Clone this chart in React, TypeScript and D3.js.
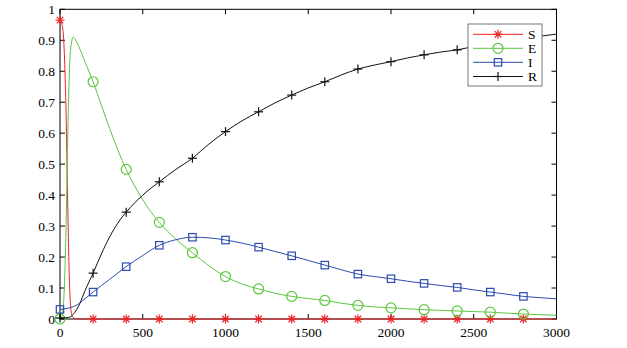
import React from "react";
import * as d3 from "d3";

const W = 627;
const H = 348;

const xTicks = [0, 500, 1000, 1500, 2000, 2500, 3000];
const yTicks = [0, 0.1, 0.2, 0.3, 0.4, 0.5, 0.6, 0.7, 0.8, 0.9, 1];
const yTickLabels = ["0", "0.1", "0.2", "0.3", "0.4", "0.5", "0.6", "0.7", "0.8", "0.9", "1"];

const sT = [0, 10, 20, 30, 36, 40, 45, 50, 55, 60, 65, 70, 80, 100, 120, 200, 400, 600, 800, 1000, 1200, 1400, 1600, 1800, 2000, 2200, 2400, 2600, 2800, 3000];
const sV = [0.965, 0.955, 0.92, 0.8, 0.68, 0.57, 0.42, 0.28, 0.16, 0.08, 0.035, 0.015, 0.004, 0.001, 0, 0, 0, 0, 0, 0, 0, 0, 0, 0, 0, 0, 0, 0, 0, 0];

const eT = [0, 10, 20, 30, 36, 40, 45, 50, 55, 60, 65, 70, 80, 90, 100, 120, 150, 200, 250, 300, 350, 400, 500, 600, 700, 800, 900, 1000, 1100, 1200, 1300, 1400, 1500, 1600, 1700, 1800, 1900, 2000, 2100, 2200, 2300, 2400, 2500, 2600, 2700, 2800, 2900, 3000];
const eV = [0, 0.008, 0.04, 0.16, 0.28, 0.39, 0.54, 0.67, 0.77, 0.84, 0.875, 0.895, 0.91, 0.905, 0.895, 0.872, 0.832, 0.766, 0.69, 0.615, 0.545, 0.483, 0.385, 0.312, 0.258, 0.214, 0.172, 0.137, 0.113, 0.097, 0.083, 0.073, 0.066, 0.06, 0.051, 0.044, 0.039, 0.036, 0.033, 0.03, 0.028, 0.026, 0.024, 0.022, 0.019, 0.016, 0.014, 0.012];

const iT = [0, 50, 100, 150, 200, 300, 400, 500, 600, 700, 800, 900, 1000, 1100, 1200, 1300, 1400, 1500, 1600, 1700, 1800, 1900, 2000, 2100, 2200, 2300, 2400, 2500, 2600, 2700, 2800, 2900, 3000];
const iV = [0.031, 0.035, 0.045, 0.065, 0.087, 0.128, 0.169, 0.205, 0.238, 0.256, 0.264, 0.262, 0.255, 0.245, 0.232, 0.218, 0.204, 0.189, 0.174, 0.159, 0.145, 0.137, 0.13, 0.122, 0.115, 0.108, 0.102, 0.094, 0.087, 0.08, 0.073, 0.069, 0.065];

const rT = [0, 50, 80, 100, 120, 150, 200, 250, 300, 363, 400, 500, 600, 700, 800, 900, 1000, 1100, 1200, 1300, 1400, 1500, 1600, 1700, 1800, 1900, 2000, 2100, 2200, 2300, 2400, 2500, 2600, 2700, 2800, 2900, 3000];
const rV = [0.003, 0.005, 0.015, 0.03, 0.05, 0.09, 0.148, 0.21, 0.265, 0.32, 0.345, 0.4, 0.443, 0.483, 0.519, 0.565, 0.605, 0.64, 0.669, 0.698, 0.723, 0.746, 0.766, 0.788, 0.807, 0.82, 0.831, 0.843, 0.853, 0.862, 0.869, 0.88, 0.89, 0.898, 0.905, 0.913, 0.92];

const seriesNames = ["S", "E", "I", "R"];
const seriesColors = ["#ee2222", "#5cc63e", "#2b4bb0", "#111111"];
const markerStep = 200;
const markerMax = 2800;

const x = d3.scaleLinear().domain([0, 3000]).range([60, 556.5]);
const y = d3.scaleLinear().domain([0, 1]).range([319, 9.3]);

function Marker({ kind, cx, cy, color }: { kind: number; cx: number; cy: number; color: string }) {
  if (kind === 0) {
    const r = 4.5;
    const d = r * 0.72;
    return (
      <g stroke={color} strokeWidth={1.2}>
        <line x1={cx - r} y1={cy} x2={cx + r} y2={cy} />
        <line x1={cx} y1={cy - r} x2={cx} y2={cy + r} />
        <line x1={cx - d} y1={cy - d} x2={cx + d} y2={cy + d} />
        <line x1={cx - d} y1={cy + d} x2={cx + d} y2={cy - d} />
      </g>
    );
  }
  if (kind === 1) {
    return <circle cx={cx} cy={cy} r={5} fill="none" stroke={color} strokeWidth={1.2} />;
  }
  if (kind === 2) {
    return <rect x={cx - 3.7} y={cy - 3.7} width={7.4} height={7.4} fill="none" stroke={color} strokeWidth={1.2} />;
  }
  const r = 4.5;
  return (
    <g stroke={color} strokeWidth={1.2}>
      <line x1={cx - r} y1={cy} x2={cx + r} y2={cy} />
      <line x1={cx} y1={cy - r} x2={cx} y2={cy + r} />
    </g>
  );
}

export default function App() {
  const series = [
    { t: sT, v: sV },
    { t: eT, v: eV },
    { t: iT, v: iV },
    { t: rT, v: rV },
  ];
  const line = d3
    .line<[number, number]>()
    .x((d) => x(d[0]))
    .y((d) => y(d[1]))
    .curve(d3.curveMonotoneX);

  const [x0, x1] = x.range();
  const [y0, y1] = y.range();
  const tl = 5;
  const textStyle = { fontFamily: '"Liberation Serif", "DejaVu Serif", serif', fontSize: "13.5px" };

  const legX = 468, legY = 24, legW = 74, legH = 62;
  const rowY = [34.3, 48.3, 62.3, 76.5];

  return (
    <svg width={W} height={H} style={{ position: "absolute", left: 0, top: 0, background: "#fff" }}>
      <rect x={0} y={0} width={W} height={H} fill="#fff" />
      <rect x={x0} y={y1} width={x1 - x0} height={y0 - y1} fill="none" stroke="#000" strokeWidth={1} />
      {xTicks.map((t, i) => (
        <g key={"xt" + i}>
          <line x1={x(t)} x2={x(t)} y1={y0} y2={y0 - tl} stroke="#000" />
          <line x1={x(t)} x2={x(t)} y1={y1} y2={y1 + tl} stroke="#000" />
          <text x={x(t)} y={337} textAnchor="middle" style={textStyle} fill="#000">
            {String(t)}
          </text>
        </g>
      ))}
      {yTicks.map((t, i) => (
        <g key={"yt" + i}>
          <line x1={x0} x2={x0 + tl} y1={y(t)} y2={y(t)} stroke="#000" />
          <line x1={x1} x2={x1 - tl} y1={y(t)} y2={y(t)} stroke="#000" />
          <text x={55} y={y(t) + 4.5} textAnchor="end" style={textStyle} fill="#000">
            {yTickLabels[i]}
          </text>
        </g>
      ))}
      {series.map((s, k) => {
        const pts: [number, number][] = s.t.map((t, i) => [t, s.v[i]]);
        return (
          <g key={"s" + k}>
            <path d={line(pts) || ""} fill="none" stroke={seriesColors[k]} strokeWidth={1} />
            {pts
              .filter((p) => p[0] % markerStep === 0 && p[0] <= markerMax)
              .map((p, j) => (
                <Marker key={j} kind={k} cx={x(p[0])} cy={y(p[1])} color={seriesColors[k]} />
              ))}
          </g>
        );
      })}
      <rect x={legX} y={legY} width={legW} height={legH} fill="#fff" stroke="#777" strokeWidth={1} />
      {seriesNames.map((n, k) => (
        <g key={"lg" + k}>
          <line x1={473} x2={523} y1={rowY[k]} y2={rowY[k]} stroke={seriesColors[k]} strokeWidth={1} />
          <Marker kind={k} cx={498} cy={rowY[k]} color={seriesColors[k]} />
          <text x={528} y={rowY[k] + 4.5} style={textStyle} fill="#000">
            {n}
          </text>
        </g>
      ))}
    </svg>
  );
}
